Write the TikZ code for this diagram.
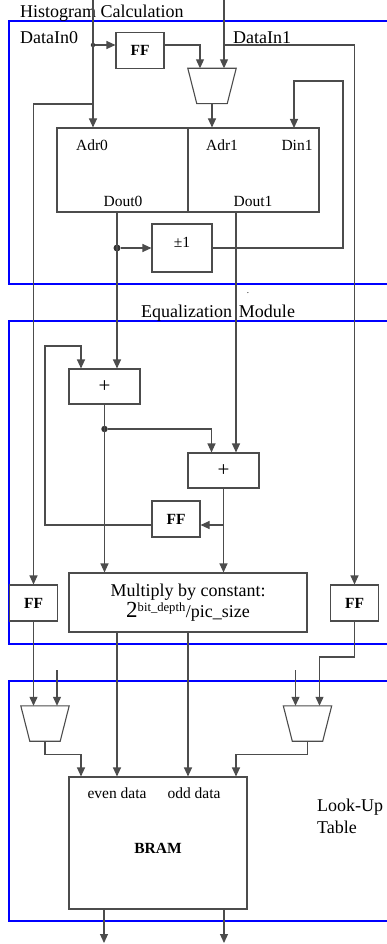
\documentclass[tikz,border=0pt]{standalone}
\usepackage{fontspec}
\setmainfont{Liberation Serif}
\usetikzlibrary{arrows.meta, positioning, calc}

% trapezoid outline of a multiplexer node
\newcommand{\muxoutline}[1]{%
    \draw [wire] (#1.north west) -- (#1.north east)
        -- ([xshift=-9pt]#1.south east) -- ([xshift=9pt]#1.south west) -- cycle;}

\begin{document}
\begin{tikzpicture}[
    x=1pt, y=-1pt,
    wire/.style={
        line width=1.1pt,
        color=black!70
    },
    box/.style={
        rectangle,
        draw=black!70,
        line width=1.1pt,
        inner sep=0pt,
        font=\fontsize{15.5}{18}\selectfont
    },
    ffbox/.style={
        box,
        minimum width=48pt,
        minimum height=36pt,
        font=\fontsize{15.5}{18}\selectfont\bfseries
    },
    addbox/.style={
        box,
        minimum width=71pt,
        minimum height=35pt,
        font=\fontsize{21}{22}\selectfont
    },
    memhalf/.style={
        box,
        minimum width=131pt,
        minimum height=84pt
    },
    mux/.style={
        rectangle,
        minimum width=48pt,
        minimum height=35pt,
        inner sep=0pt
    },
    frame/.style={
        draw=blue,
        line width=1.6pt
    },
    line/.style={
        draw,
        -{Triangle[length=9pt,width=8pt]},
        wire
    },
    bigtxt/.style={
        inner sep=0pt,
        font=\fontsize{18}{22}\selectfont
    },
    smalltxt/.style={
        inner sep=0pt,
        font=\fontsize{15.5}{18}\selectfont
    },
    jdot/.style={
        circle,
        fill=black!80,
        inner sep=0pt,
        minimum size=#1
    },
    jdot/.default=6pt
]
\useasboundingbox (0,0) rectangle (387,944);

% Module frames
\draw [frame] (390,21) -| (9,284) -- (390,284);
\draw [frame] (390,321) -| (9,644) -- (390,644);
\draw [frame] (390,681) -| (9,921) -- (390,921);

% Titles
\node [bigtxt, anchor=west] (histtitle) at (20,13) {Histogram Calculation};
\node [bigtxt] (eqtitle) at (218,313) {Equalization\hspace{7pt}Module};
\node [inner sep=0pt, font=\fontsize{9}{9}\selectfont] (stray) at (248,293) {.};
\node [bigtxt, anchor=west, align=left] (luttitle) at (317,816) {Look-Up\\Table};
\node [bigtxt, anchor=west] (lblin0) at (20,38) {DataIn0};
\node [bigtxt, anchor=west] (lblin1) at (233,38) {DataIn1};

% Histogram nodes
\node [ffbox] (ff1) at (140,50.5) {FF};
\node [mux] (mux1) at (212,86) {};
\muxoutline{mux1}
\node [memhalf] (mem0) at (122.5,170) {};
\node [memhalf] (mem1) at (253.5,170) {};
\node [smalltxt] (adr0) at (92,145) {Adr0};
\node [smalltxt] (adr1) at (222,145) {Adr1};
\node [smalltxt] (din1lbl) at (297,145) {Din1};
\node [smalltxt] (dout0lbl) at (123,201) {Dout0};
\node [smalltxt] (dout1lbl) at (253,201) {Dout1};
\node [box, minimum width=60pt, minimum height=48pt, text depth=12pt] (pm1) at (182,248) {±1};

% Equalization nodes
\node [addbox] (add1) at (104.5,386.5) {+};
\node [addbox] (add2) at (223.5,470.5) {+};
\node [ffbox] (ff2) at (176,519) {FF};
\node [box, minimum width=238pt, minimum height=59pt, align=center,
       font=\fontsize{18}{21}\selectfont] (mult) at (188,602.5)
      {Multiply by constant:\\{\fontsize{23}{21}\selectfont 2}\textsuperscript{bit\_depth}/pic\_size};
\node [ffbox] (ffl) at (33.5,603) {FF};
\node [ffbox] (ffr) at (354.5,603) {FF};

% Look-up table nodes
\node [mux] (muxl) at (45,723.5) {};
\muxoutline{muxl}
\node [mux] (muxr) at (307.5,723.5) {};
\muxoutline{muxr}
\node [box, minimum width=178pt, minimum height=132pt] (bram) at (158,843) {};
\node [smalltxt] (evenlbl) at (117,793) {even data};
\node [smalltxt] (oddlbl) at (194,793) {odd data};
\node [smalltxt, font=\fontsize{15.5}{18}\selectfont\bfseries] (bramlbl) at (158,848) {BRAM};

% Junctions and free ends
\coordinate (in0) at (93,0);
\coordinate (in1) at (224,0);
\coordinate (j0) at (93,104);
\coordinate (j1) at (224,45);
\coordinate (lpc) at (343,81);
\coordinate (din1) at (294,128);
\coordinate (dout0) at (117,212);
\coordinate (dout1) at (236,212);
\coordinate (fbc) at (45,346);
\coordinate (j2) at (223.5,525);
\coordinate (ffrc) at (319.5,657);
\coordinate (ml2) at (57,670);
\coordinate (mr1) at (295.5,670);
\coordinate (out0) at (104,943);
\coordinate (out1) at (224,943);
\node [jdot=4.5pt] (d0) at (93,45) {};
\node [jdot=7pt] (d1) at (117,248) {};
\node [jdot=6.5pt] (d2) at (104.5,429) {};

% Connections
\path [line] (in0) -- (in0 |- mem0.north);
\path [line] (d0) -- (d0 -| ff1.west);
\path [line] (ff1.east |- d0) -| ([xshift=-12pt]mux1.north);
\path [line] (in1) -- ([xshift=12pt]mux1.north);
\path [line] (j1) -| (ffr.north);
\path [line] (j0) -| (ffl.north);
\path [line] (mux1.south) -- (mux1.south |- mem1.north);
\path [line] (pm1.east) -| (lpc) -| (din1);
\path [line] (dout0) -- (dout0 |- add1.north);
\path [line] (d1) -- (pm1.west);
\path [line] (dout1) -- (dout1 |- add2.north);

% Accumulation
\path [line] (add1.south) -- (add1.south |- mult.north);
\path [line] (d2) -| ([xshift=-12pt]add2.north);
\path [line] (add2.south) -- (add2.south |- mult.north);
\path [line] (j2) -- (j2 -| ff2.east);
\path [line] (ff2.west |- j2) -| (fbc) -| ([xshift=-23.5pt]add1.north);

% Into the look-up table
\path [line] (ffl.south) -- (ffl.south |- muxl.north);
\path [line] (ml2) -- (ml2 |- muxl.north);
\path [line] (ffr.south) |- (ffrc) -- (ffrc |- muxr.north);
\path [line] (mr1) -- (mr1 |- muxr.north);
\path [line] (muxl.south) -- ++(0,13) -| ([xshift=-77pt]bram.north);
\path [line] ([xshift=-71pt]mult.south) -- ([xshift=-71pt]mult.south |- bram.north);
\path [line] (mult.south) -- (mult.south |- bram.north);
\path [line] (muxr.south) -- ++(0,13) -| ([xshift=78pt]bram.north);
\path [line] ([xshift=-54pt]bram.south) -- (out0);
\path [line] ([xshift=66pt]bram.south) -- (out1);

\end{tikzpicture}
\end{document}
